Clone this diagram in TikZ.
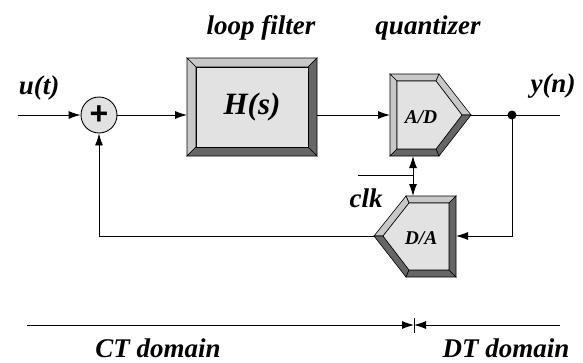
\documentclass[tikz,border=0pt]{standalone}
\usepackage{fontspec}
\setmainfont{Liberation Serif}
\setsansfont{Liberation Sans}
\usetikzlibrary{arrows.meta}
\definecolor{facegray}{HTML}{E2E2E2}
\definecolor{lightbevel}{HTML}{C8C8C8}
\definecolor{darkbevel}{HTML}{666666}
\tikzset{
  lbl/.style={font=\fontsize{27}{30}\selectfont\bfseries\itshape, inner sep=0pt},
  smalllbl/.style={font=\fontsize{19.5}{22}\selectfont\bfseries\itshape, inner sep=0pt},
  bigl/.style={font=\fontsize{31}{34}\selectfont\bfseries\itshape, inner sep=0pt},
  wire/.style={line width=0.9pt, draw=black},
  arr/.style={wire, -{Latex[length=12pt,width=8pt]}},
  dbl/.style={wire, {Latex[length=12pt,width=8pt]}-{Latex[length=12pt,width=8pt]}},
  lightface/.style={fill=lightbevel, draw=black, line width=0.6pt, line join=miter},
  darkface/.style={fill=darkbevel, draw=black, line width=0.6pt},
  mainface/.style={fill=facegray, draw=black, line width=0.6pt},
}
\begin{document}
\begin{tikzpicture}[x=1pt,y=-1pt]
\useasboundingbox (0,0) rectangle (583,362);
\fill[white] (0,0) rectangle (583,362);

% ---- loop filter box H(s)
\filldraw[lightface] (187,58) -- (317,58) -- (308,67) -- (196,67) -- cycle;
\filldraw[lightface] (187,58) -- (196,67) -- (196,147) -- (187,156) -- cycle;
\filldraw[darkface] (317,58) -- (317,156) -- (308,147) -- (308,67) -- cycle;
\filldraw[darkface] (187,156) -- (317,156) -- (308,147) -- (196,147) -- cycle;
\filldraw[mainface] (196,67) rectangle (308,147);
\node[bigl] (H) at (252,107) {H(s)};
\coordinate (Hin) at (187,115);
\coordinate (Hout) at (317,115);

% ---- A/D quantizer
\filldraw[lightface] (390,74) -- (439,74) -- (436,81) -- (397,81) -- cycle;
\filldraw[lightface] (390,74) -- (397,81) -- (397,149) -- (390,156) -- cycle;
\filldraw[lightface] (439,74) -- (471,115) -- (462,115) -- (436,81) -- cycle;
\filldraw[darkface] (471,115) -- (439,156) -- (436,149) -- (462,115) -- cycle;
\filldraw[darkface] (390,156) -- (439,156) -- (436,149) -- (397,149) -- cycle;
\filldraw[mainface] (397,81) -- (436,81) -- (462,115) -- (436,149) -- (397,149) -- cycle;
\node[smalllbl] (AD) at (421,117) {A/D};
\coordinate (ADin) at (390,115);
\coordinate (ADout) at (471,115);
\coordinate (ADbot) at (413,156);

% ---- D/A
\filldraw[lightface] (456,196) -- (406,196) -- (409,203) -- (449,203) -- cycle;
\filldraw[lightface] (406,196) -- (374,236) -- (383,236) -- (409,203) -- cycle;
\filldraw[darkface] (374,236) -- (406,277) -- (409,270) -- (383,236) -- cycle;
\filldraw[darkface] (406,277) -- (456,277) -- (449,270) -- (409,270) -- cycle;
\filldraw[darkface] (456,196) -- (456,277) -- (449,270) -- (449,203) -- cycle;
\filldraw[mainface] (409,203) -- (449,203) -- (449,270) -- (409,270) -- (383,236) -- cycle;
\node[smalllbl] (DA) at (421,238) {D/A};
\coordinate (DAin) at (456,236);
\coordinate (DAout) at (374,236);
\coordinate (DAtop) at (413,196);

% ---- summing junction
\node[circle, draw=black, line width=0.9pt, fill=facegray, minimum size=36pt, inner sep=0pt,
      font=\fontsize{32}{32}\selectfont\sffamily\bfseries] (sum) at (99,115) {+};

% ---- signals
\coordinate (in) at (18,115);
\coordinate (out) at (560,115);
\coordinate (tap) at (512,115);
\coordinate (tapdn) at (512,236);
\coordinate (fbcorner) at (99,236);
\coordinate (clkstart) at (358,175);
\coordinate (clkjoin) at (413,175);

\draw[arr] (in) -- (sum.west);
\draw[arr] (sum.east) -- (Hin);
\draw[arr] (Hout) -- (ADin);
\draw[wire] (ADout) -- (out);
\fill (tap) circle (4.5pt);
\draw[arr] (tap) -- (tapdn) -- (DAin);
\draw[arr] (DAout) -- (fbcorner) -- (sum.south);
\draw[wire] (clkstart) -- (clkjoin);
\draw[dbl] (ADbot) -- (DAtop);

% ---- labels
\node[lbl] (ut) at (39,88) {u(t)};
\node[lbl] (yn) at (553,86) {y(n)};
\node[lbl] (lf) at (261,28) {loop filter};
\node[lbl] (qz) at (428,28) {quantizer};
\node[lbl] (clk) at (366,198) {clk};

% ---- domain line
\coordinate (dl) at (27,325);
\coordinate (dr) at (560,325);
\coordinate (dm) at (414,325);
\coordinate (dmt) at (414,318);
\coordinate (dmb) at (414,333);
\draw[arr] (dl) -- (dm);
\draw[arr] (dr) -- (dm);
\draw[line width=0.6pt] (dmt) -- (dmb);
\node[lbl, anchor=base] (ct) at (158,357) {CT domain};
\node[lbl, anchor=base] (dt) at (506,357) {DT domain};
\end{tikzpicture}
\end{document}
